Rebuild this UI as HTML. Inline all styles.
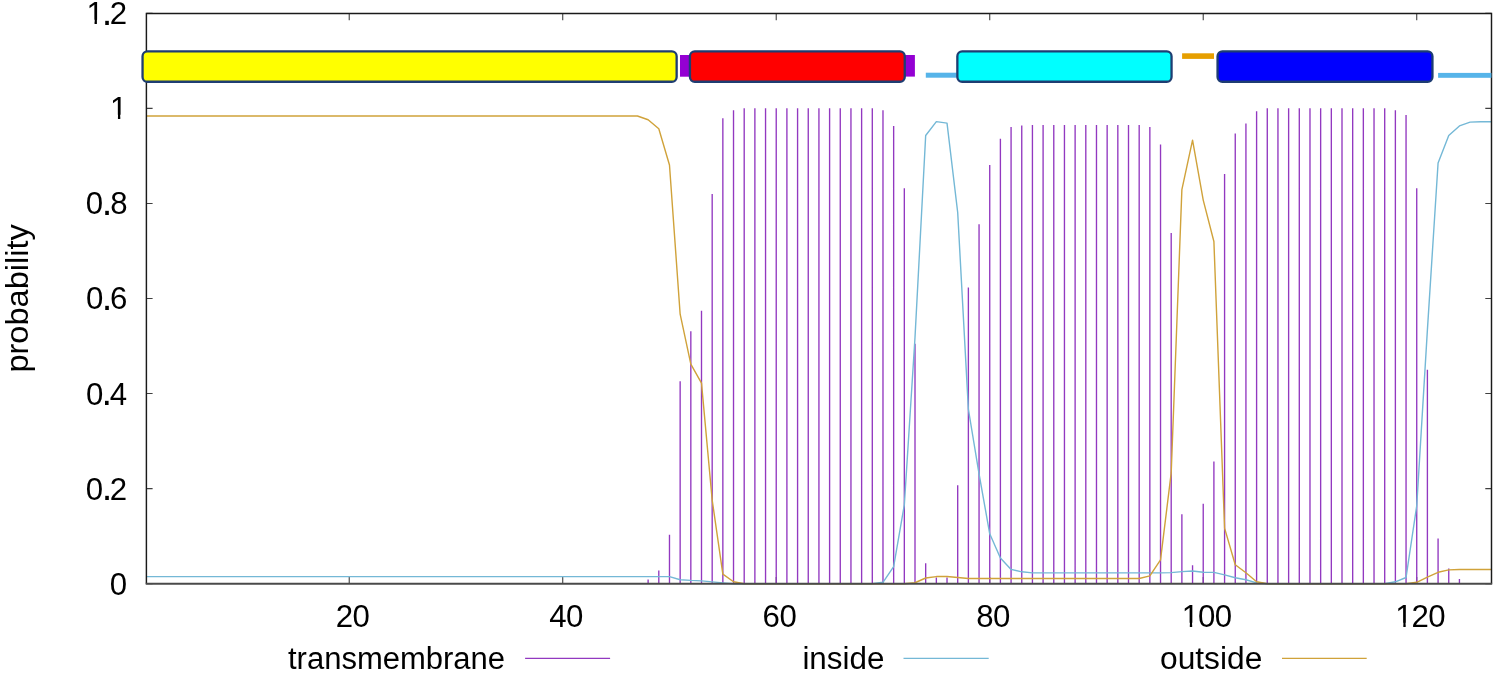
<!DOCTYPE html>
<html><head><meta charset="utf-8"><style>
html,body{margin:0;padding:0;background:#fff;}
svg{display:block;will-change:transform;}
text{font-family:"Liberation Sans", sans-serif;fill:#000;}
</style></head><body>
<svg width="1499" height="673" viewBox="0 0 1499 673">
<defs><clipPath id="c0" clipPathUnits="userSpaceOnUse"><rect x="-10.00" y="-10.00" width="2000.00" height="124.75"/><rect x="-10.00" y="-10.00" width="121.42" height="2000.00"/><rect x="126.65" y="-10.00" width="2000.00" height="2000.00"/><rect x="117.94" y="-10.00" width="2.36" height="2000.00"/></clipPath><clipPath id="c1" clipPathUnits="userSpaceOnUse"><rect x="-10.00" y="-10.00" width="2000.00" height="29.68"/><rect x="-10.00" y="-10.00" width="98.02" height="2000.00"/><rect x="103.25" y="-10.00" width="2000.00" height="2000.00"/><rect x="94.54" y="-10.00" width="2.36" height="2000.00"/></clipPath><clipPath id="c2" clipPathUnits="userSpaceOnUse"><rect x="-10.00" y="-10.00" width="2000.00" height="632.63"/><rect x="-10.00" y="-10.00" width="1193.30" height="2000.00"/><rect x="1198.53" y="-10.00" width="2000.00" height="2000.00"/><rect x="1189.82" y="-10.00" width="2.36" height="2000.00"/></clipPath><clipPath id="c3" clipPathUnits="userSpaceOnUse"><rect x="-10.00" y="-10.00" width="2000.00" height="632.63"/><rect x="-10.00" y="-10.00" width="1406.80" height="2000.00"/><rect x="1412.03" y="-10.00" width="2000.00" height="2000.00"/><rect x="1403.32" y="-10.00" width="2.36" height="2000.00"/></clipPath></defs>
<rect width="1499" height="673" fill="#fff"/>
<path d="M146.40 583.70h6.2M1491.50 583.70h-6.2M146.40 488.63h6.2M1491.50 488.63h-6.2M146.40 393.57h6.2M1491.50 393.57h-6.2M146.40 298.50h6.2M1491.50 298.50h-6.2M146.40 203.44h6.2M1491.50 203.44h-6.2M146.40 108.37h6.2M1491.50 108.37h-6.2M146.40 13.30h6.2M1491.50 13.30h-6.2M349.23 583.70v-6.8M349.23 13.40v6.8M562.73 583.70v-6.8M562.73 13.40v6.8M776.23 583.70v-6.8M776.23 13.40v6.8M989.73 583.70v-6.8M989.73 13.40v6.8M1203.23 583.70v-6.8M1203.23 13.40v6.8M1416.73 583.70v-6.8M1416.73 13.40v6.8" stroke="#404040" stroke-width="1.1" fill="none"/>
<path d="M648.12 583.70V579.42M658.80 583.70V570.39M669.48 583.70V534.74M680.15 583.70V381.21M690.83 583.70V331.30M701.50 583.70V310.86M712.18 583.70V193.93M722.85 583.70V118.35M733.52 583.70V110.27M744.20 583.70V108.37M754.88 583.70V108.37M765.55 583.70V108.37M776.23 583.70V108.37M786.90 583.70V108.37M797.58 583.70V108.37M808.25 583.70V108.37M818.93 583.70V108.37M829.60 583.70V108.37M840.27 583.70V108.37M850.95 583.70V108.37M861.62 583.70V108.37M872.30 583.70V108.37M882.98 583.70V110.27M893.65 583.70V125.96M904.33 583.70V188.23M915.00 583.70V343.66M925.68 583.70V563.26M936.35 583.70V577.52M947.02 583.70V577.52M957.70 583.70V485.31M968.38 583.70V287.57M979.05 583.70V224.35M989.73 583.70V164.93M1000.40 583.70V138.79M1011.08 583.70V126.91M1021.75 583.70V125.48M1032.43 583.70V125.01M1043.10 583.70V125.01M1053.78 583.70V125.01M1064.45 583.70V125.01M1075.12 583.70V125.01M1085.80 583.70V125.01M1096.48 583.70V125.01M1107.15 583.70V125.01M1117.83 583.70V125.01M1128.50 583.70V125.01M1139.18 583.70V125.01M1149.85 583.70V126.91M1160.53 583.70V144.50M1171.20 583.70V232.91M1181.88 583.70V514.30M1192.55 583.70V565.16M1203.23 583.70V503.84M1213.90 583.70V461.54M1224.58 583.70V173.97M1235.25 583.70V133.56M1245.93 583.70V123.58M1256.60 583.70V111.22M1267.28 583.70V108.37M1277.95 583.70V108.37M1288.63 583.70V108.37M1299.30 583.70V108.37M1309.98 583.70V108.37M1320.65 583.70V108.37M1331.33 583.70V108.37M1342.00 583.70V108.37M1352.68 583.70V108.37M1363.35 583.70V108.37M1374.03 583.70V108.37M1384.70 583.70V108.37M1395.38 583.70V110.27M1406.05 583.70V115.02M1416.73 583.70V188.23M1427.40 583.70V369.80M1438.08 583.70V538.54M1448.75 583.70V568.49M1459.43 583.70V578.95" stroke="#9238c0" stroke-width="1.35" fill="none"/>
<polyline points="146.40,576.67 157.08,576.67 167.75,576.67 178.43,576.67 189.10,576.67 199.78,576.67 210.45,576.67 221.12,576.67 231.80,576.67 242.48,576.67 253.15,576.67 263.83,576.67 274.50,576.67 285.18,576.67 295.85,576.67 306.52,576.67 317.20,576.67 327.88,576.67 338.55,576.67 349.23,576.67 359.90,576.67 370.58,576.67 381.25,576.67 391.93,576.67 402.60,576.67 413.27,576.67 423.95,576.67 434.62,576.67 445.30,576.67 455.98,576.67 466.65,576.67 477.33,576.67 488.00,576.67 498.68,576.67 509.35,576.67 520.02,576.67 530.70,576.67 541.38,576.67 552.05,576.67 562.73,576.67 573.40,576.67 584.08,576.67 594.75,576.67 605.43,576.67 616.10,576.67 626.78,576.67 637.45,576.67 648.12,576.67 658.80,576.67 669.48,576.67 680.15,579.71 690.83,580.42 701.50,580.85 712.18,581.89 722.85,582.89 733.52,583.70 744.20,583.70 754.88,583.70 765.55,583.70 776.23,583.70 786.90,583.70 797.58,583.70 808.25,583.70 818.93,583.70 829.60,583.70 840.27,583.70 850.95,583.70 861.62,583.70 872.30,583.70 882.98,582.27 893.65,566.59 904.33,504.80 915.00,337.48 925.68,135.46 936.35,121.68 947.02,123.11 957.70,212.47 968.38,409.25 979.05,473.90 989.73,533.79 1000.40,558.03 1011.08,569.44 1021.75,571.82 1032.43,572.86 1043.10,572.86 1053.78,572.86 1064.45,572.86 1075.12,572.86 1085.80,572.86 1096.48,572.86 1107.15,572.86 1117.83,572.86 1128.50,572.86 1139.18,572.86 1149.85,572.86 1160.53,572.86 1171.20,572.58 1181.88,571.63 1192.55,571.01 1203.23,572.20 1213.90,572.34 1224.58,574.81 1235.25,577.71 1245.93,579.71 1256.60,582.89 1267.28,583.70 1277.95,583.70 1288.63,583.70 1299.30,583.70 1309.98,583.70 1320.65,583.70 1331.33,583.70 1342.00,583.70 1352.68,583.70 1363.35,583.70 1374.03,583.70 1384.70,583.70 1395.38,581.80 1406.05,577.52 1416.73,505.75 1427.40,329.87 1438.08,163.03 1448.75,135.46 1459.43,125.96 1470.10,122.15 1480.78,121.68 1491.45,121.68" fill="none" stroke="#74b8d6" stroke-width="1.4" stroke-linejoin="round"/>
<polyline points="146.40,115.98 157.08,115.98 167.75,115.98 178.43,115.98 189.10,115.98 199.78,115.98 210.45,115.98 221.12,115.98 231.80,115.98 242.48,115.98 253.15,115.98 263.83,115.98 274.50,115.98 285.18,115.98 295.85,115.98 306.52,115.98 317.20,115.98 327.88,115.98 338.55,115.98 349.23,115.98 359.90,115.98 370.58,115.98 381.25,115.98 391.93,115.98 402.60,115.98 413.27,115.98 423.95,115.98 434.62,115.98 445.30,115.98 455.98,115.98 466.65,115.98 477.33,115.98 488.00,115.98 498.68,115.98 509.35,115.98 520.02,115.98 530.70,115.98 541.38,115.98 552.05,115.98 562.73,115.98 573.40,115.98 584.08,115.98 594.75,115.98 605.43,115.98 616.10,115.98 626.78,115.98 637.45,115.98 648.12,119.78 658.80,128.81 669.48,164.93 680.15,314.19 690.83,364.10 701.50,383.11 712.18,500.04 722.85,574.19 733.52,581.80 744.20,583.70 754.88,583.70 765.55,583.70 776.23,583.70 786.90,583.70 797.58,583.70 808.25,583.70 818.93,583.70 829.60,583.70 840.27,583.70 850.95,583.70 861.62,583.70 872.30,583.70 882.98,583.70 893.65,583.70 904.33,583.70 915.00,582.75 925.68,578.00 936.35,576.57 947.02,576.57 957.70,577.52 968.38,578.47 979.05,578.47 989.73,578.47 1000.40,578.47 1011.08,578.47 1021.75,578.47 1032.43,578.47 1043.10,578.47 1053.78,578.47 1064.45,578.47 1075.12,578.47 1085.80,578.47 1096.48,578.47 1107.15,578.47 1117.83,578.47 1128.50,578.47 1139.18,578.47 1149.85,575.81 1160.53,559.93 1171.20,472.95 1181.88,189.65 1192.55,140.22 1203.23,200.11 1213.90,241.46 1224.58,528.09 1235.25,564.69 1245.93,572.77 1256.60,581.80 1267.28,583.70 1277.95,583.70 1288.63,583.70 1299.30,583.70 1309.98,583.70 1320.65,583.70 1331.33,583.70 1342.00,583.70 1352.68,583.70 1363.35,583.70 1374.03,583.70 1384.70,583.70 1395.38,583.70 1406.05,583.70 1416.73,582.27 1427.40,577.05 1438.08,572.29 1448.75,569.92 1459.43,569.44 1470.10,569.44 1480.78,569.44 1491.45,569.44" fill="none" stroke="#d0a23a" stroke-width="1.4" stroke-linejoin="round"/>
<path d="M146.40 583.70V13.40H1491.50V583.70" fill="none" stroke="#1a1a1a" stroke-width="1.45"/>
<path d="M145.70 583.85H1492.20" fill="none" stroke="#4a4a4a" stroke-width="2.0"/>
<rect x="680" y="55" width="10" height="21.7" fill="#9400d3"/>
<rect x="904" y="55" width="10.9" height="21.6" fill="#9400d3"/>
<rect x="925.8" y="72.7" width="31" height="5" fill="#56b4e9"/>
<rect x="1182.1" y="53.3" width="31.9" height="5.6" fill="#e69f00"/>
<rect x="1438.1" y="72.9" width="53.3" height="4.9" fill="#56b4e9"/>
<rect x="142.55" y="51.35" width="534.10" height="30.40" rx="4.8" ry="4.8" fill="#ffff00" stroke="#1e3d72" stroke-width="2.3"/>
<rect x="689.95" y="51.35" width="214.80" height="30.40" rx="4.8" ry="4.8" fill="#ff0000" stroke="#1e3d72" stroke-width="2.3"/>
<rect x="957.35" y="51.35" width="214.20" height="30.40" rx="4.8" ry="4.8" fill="#00ffff" stroke="#1e3d72" stroke-width="2.3"/>
<rect x="1217.55" y="51.35" width="214.90" height="30.40" rx="4.8" ry="4.8" fill="#0000ff" stroke="#1e3d72" stroke-width="2.3"/>
<text y="594.65" font-size="31.2"><tspan x="109.82">0</tspan></text>
<text y="499.58" font-size="31.2"><tspan x="85.82">0</tspan><tspan x="101.72" font-size="38.0" dy="0.4">.</tspan><tspan x="109.82" dy="-0.4">2</tspan></text>
<text y="404.52" font-size="31.2"><tspan x="86.12">0</tspan><tspan x="101.62" font-size="38.0" dy="0.4">.</tspan><tspan x="109.77" dy="-0.4">4</tspan></text>
<text y="309.45" font-size="31.2"><tspan x="85.92">0</tspan><tspan x="101.72" font-size="38.0" dy="0.4">.</tspan><tspan x="110.12" dy="-0.4">6</tspan></text>
<text y="214.39" font-size="31.2"><tspan x="85.72">0</tspan><tspan x="101.72" font-size="38.0" dy="0.4">.</tspan><tspan x="110.37" dy="-0.4">8</tspan></text>
<text y="119.32" font-size="31.2" clip-path="url(#c0)"><tspan x="109.90">1</tspan></text>
<text y="24.25" font-size="31.2" clip-path="url(#c1)"><tspan x="86.50">1</tspan><tspan x="101.72" font-size="38.0" dy="0.4">.</tspan><tspan x="109.67" dy="-0.4">2</tspan></text>
<text y="627.20" font-size="31.2"><tspan x="335.65">2</tspan><tspan x="352.45">0</tspan></text>
<text y="627.20" font-size="31.2"><tspan x="549.25">4</tspan><tspan x="565.95">0</tspan></text>
<text y="627.20" font-size="31.2"><tspan x="762.54">6</tspan><tspan x="779.45">0</tspan></text>
<text y="627.20" font-size="31.2"><tspan x="976.15">8</tspan><tspan x="992.95">0</tspan></text>
<text y="627.20" font-size="31.2" clip-path="url(#c2)"><tspan x="1181.77">1</tspan><tspan x="1198.05">0</tspan><tspan x="1214.85">0</tspan></text>
<text y="627.20" font-size="31.2" clip-path="url(#c3)"><tspan x="1395.27">1</tspan><tspan x="1411.55">2</tspan><tspan x="1428.35">0</tspan></text>
<text x="288" y="669.2" font-size="31">transmembrane</text>
<path d="M525.1 658.4H610.1" stroke="#9238c0" stroke-width="1.3"/>
<text x="802.4" y="669.2" font-size="31" textLength="82" lengthAdjust="spacingAndGlyphs">inside</text>
<path d="M903.5 658.4H988.7" stroke="#74b8d6" stroke-width="1.3"/>
<text x="1160.0" y="669.2" font-size="31" textLength="102.3" lengthAdjust="spacingAndGlyphs">outside</text>
<path d="M1282 658.3H1366.7" stroke="#d0a23a" stroke-width="1.3"/>
<text transform="translate(28.2 372.6) rotate(-90)" x="0" y="0" font-size="31" textLength="148.4" lengthAdjust="spacingAndGlyphs">probability</text>
</svg>
</body></html>
